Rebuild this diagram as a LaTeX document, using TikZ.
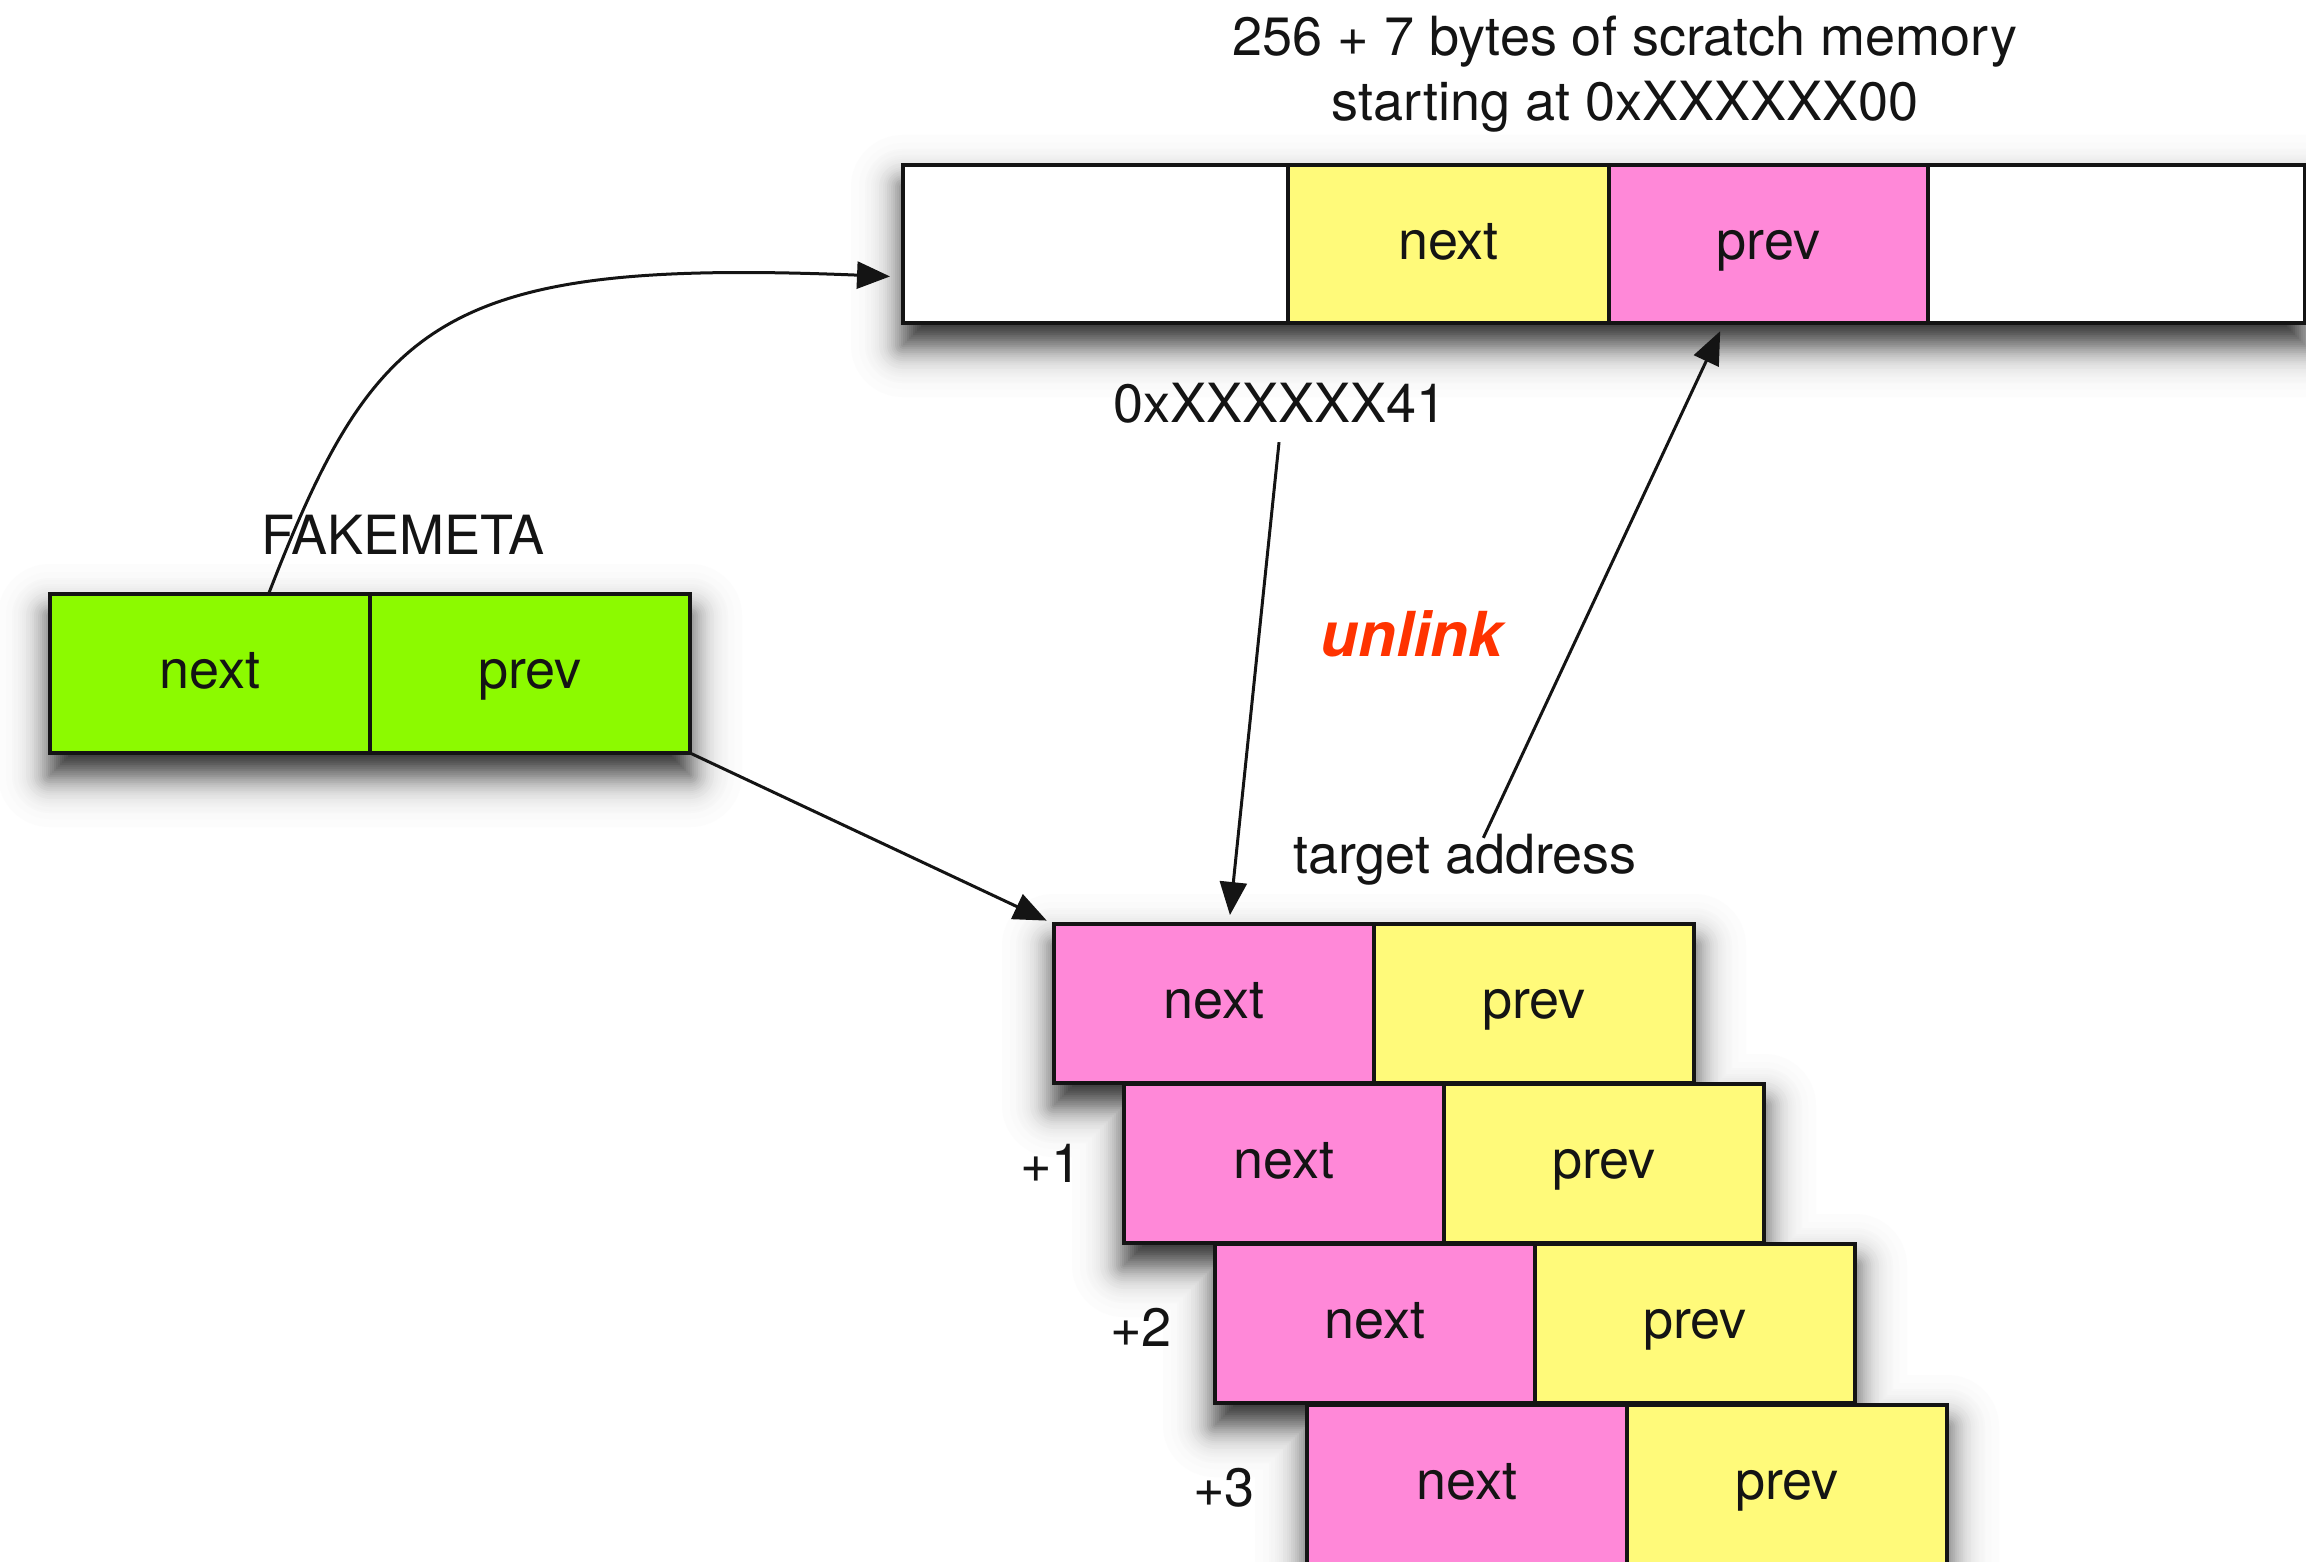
\documentclass[tikz,border=0pt]{standalone}
\usepackage{fontspec}
\setmainfont{TeX Gyre Heros}
\usetikzlibrary{arrows.meta,calc}
\pgfdeclarelayer{shadowlayer}
\pgfsetlayers{shadowlayer,main}

\definecolor{cellyellow}{RGB}{255,250,122}
\definecolor{cellpink}{RGB}{255,136,216}
\definecolor{cellgreen}{RGB}{140,250,0}
\definecolor{unlinkred}{RGB}{255,51,0}
\definecolor{ink}{RGB}{20,20,20}

\tikzset{
  cell/.style={draw=ink, line width=3.5pt, rectangle, inner sep=0pt, outer sep=0pt,
    minimum width=320pt, minimum height=159pt, anchor=north west,
    font=\fontsize{54}{60}\selectfont, text=ink,
    text height=30pt, text depth=0pt},
  nextcell/.style={cell, fill=cellpink},
  prevcell/.style={cell, fill=cellyellow},
  lbl/.style={inner sep=0pt, font=\fontsize{54}{65}\selectfont, text=ink},
  arr/.style={draw=ink, line width=3pt, -{Triangle[length=33pt,width=27pt]}}
}

\begin{document}
\begin{tikzpicture}[x=1pt,y=-1pt]
\useasboundingbox (0,0) rectangle (2306,1562);

% scratch memory bar
\node[lbl, align=center] (title) at (1625,74)
  {256 + 7 bytes of scratch memory\\starting at 0xXXXXXX00};
\node[cell, fill=white, minimum width=385pt, minimum height=158pt] (tw1) at (903,165) {};
\node[cell, fill=cellyellow, minimum width=321pt, minimum height=158pt] (tnext) at (tw1.north east) {next};
\node[cell, fill=cellpink, minimum width=319pt, minimum height=158pt] (tprev) at (tnext.north east) {prev};
\node[cell, fill=white, minimum width=377pt, minimum height=158pt] (tw2) at (tprev.north east) {};

% fake meta chunk
\node[cell, fill=cellgreen] (gnext) at (50,594) {next};
\node[cell, fill=cellgreen] (gprev) at (gnext.north east) {prev};
\node[lbl] (fake) at (403,535) {FAKEMETA};

% target chunks
\node[nextcell] (s0n) at (1054,924) {next};
\node[prevcell] (s0p) at (s0n.north east) {prev};
\node[nextcell] (s1n) at (1124,1084) {next};
\node[prevcell] (s1p) at (s1n.north east) {prev};
\node[nextcell] (s2n) at (1215,1244) {next};
\node[prevcell] (s2p) at (s2n.north east) {prev};
\node[nextcell] (s3n) at (1307,1405) {next};
\node[prevcell] (s3p) at (s3n.north east) {prev};

\node[lbl, anchor=east] (off1) at ([xshift=-42pt]s1n.west) {+1};
\node[lbl, anchor=east] (off2) at ([xshift=-43pt,yshift=-4pt]s2n.west) {+2};
\node[lbl, anchor=east] (off3) at ([xshift=-52pt,yshift=-3pt]s3n.west) {+3};

\node[lbl] (hex) at (1280,403) {0xXXXXXX41};
\node[lbl, font=\fontsize{62}{70}\selectfont\bfseries\itshape, text=unlinkred] (unlink) at (1412,634) {unlink};
\node[lbl] (tgt) at (1465,860) {target address};

% soft drop shadows: graded grey bands with a bell-shaped falloff,
% outermost (lightest) band first, offset downwards
\begin{pgfonlayer}{shadowlayer}
  \foreach \r [evaluate=\r as \shade using {int(90/(1+exp(1.702*\r/20)))},
               evaluate=\r as \rc using {max(\r,0.01)},
               evaluate=\r as \up using \r-22,
               evaluate=\r as \dn using -22-\r] in {58,56,...,-36}
    \foreach \a/\b in {tw1/tw2, gnext/gprev, s0n/s0p, s1n/s1p, s2n/s2p, s3n/s3p}
      \fill[black!\shade!white, rounded corners=\rc pt]
        ([xshift=-\r pt, yshift=\up pt]\a.north west) rectangle
        ([xshift=\r pt, yshift=\dn pt]\b.south east);
\end{pgfonlayer}

% connectors
\coordinate (fkstart) at ($(gnext.north west)!0.683!(gnext.north east)$);
\draw[arr, shorten >=13pt] (fkstart) .. controls (375,320) and (440,258) .. ([yshift=-33pt]tw1.west);
\draw[arr, shorten >=8pt] (gprev.south east) -- (s0n.north west);
\draw[arr, shorten <=19pt, shorten >=9pt] ([xshift=1pt]hex.south) -- ([xshift=175pt]s0n.north west);
\draw[arr, shorten <=-4pt, shorten >=9pt] ([xshift=20pt]tgt.north) -- ([xshift=115pt]tprev.south west);
\end{tikzpicture}
\end{document}
